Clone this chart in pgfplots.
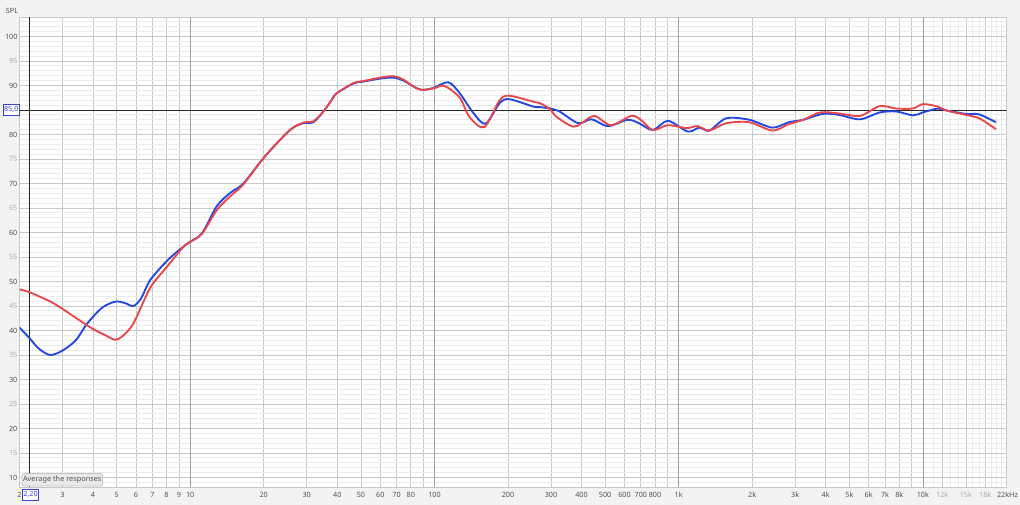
\documentclass[border=0pt]{standalone}
\usepackage{pgfplots}
\pgfplotsset{compat=1.18}
\usepackage{fontspec}
\setmainfont{Noto Sans}
\definecolor{bg}{HTML}{F3F3F3}
\definecolor{blueline}{HTML}{2447E0}
\definecolor{redline}{HTML}{E8474B}
\definecolor{gridminor}{HTML}{ECECEC}
\definecolor{gridmajor}{HTML}{D4D4D4}
\definecolor{gridmid}{HTML}{C8C8C8}
\definecolor{griddec}{HTML}{A0A0A0}
\definecolor{tdark}{HTML}{505050}
\definecolor{tlight}{HTML}{ABABAB}
\definecolor{cursorblue}{HTML}{3A44D0}
\definecolor{tipfill}{HTML}{EAEAEA}
\definecolor{tipdraw}{HTML}{C4C4C4}

\pgfplotstableread{
f y
2.0 40.6
2.2 38.4
2.4 36.3
2.67 35.0
3.0 35.9
3.4 38.0
3.72 40.9
4.0 42.8
4.4 44.8
4.94 45.9
5.4 45.6
5.86 45.0
6.3 46.6
6.86 50.3
8.03 54.2
9.1 56.6
10 58.1
11.2 59.9
12.86 65.4
14.6 68.1
16.5 70.0
20.2 75.5
25.6 80.9
29.0 82.3
31.9 82.5
35.0 84.6
37.9 87.0
39.8 88.4
46.6 90.4
51.2 90.8
59.8 91.4
67.9 91.6
74.6 91.0
82 89.8
88.6 89.1
99 89.5
114 90.65
127 88.4
144.8 84.3
162 82.2
185 86.4
203 87.2
254 85.7
270 85.6
297 85.3
325 84.7
388 82.3
440 83.1
513 81.7
618 83.0
688 82.3
785 80.9
903 82.8
1090 80.6
1214 81.4
1336 80.8
1566 83.3
1950 83.0
2420 81.4
2823 82.5
3235 83.0
3890 84.2
4530 84.0
5530 83.1
6660 84.5
7780 84.7
9100 83.9
10000 84.5
11500 85.3
12500 84.9
15000 84.2
17000 84.1
19900 82.5
}\blue

\pgfplotstableread{
f y
2.0 48.4
2.2 47.8
2.675 45.9
3.0 44.4
3.72 41.3
4.0 40.3
4.5 39.0
4.94 38.1
5.3 38.9
5.86 41.5
6.86 48.7
8.03 53.0
9.39 57.1
10 58.1
11.2 59.8
12.86 64.6
14.6 67.4
16.5 69.8
20.2 75.5
25.6 80.9
29.0 82.4
31.9 82.7
35.0 84.6
37.9 87.0
39.8 88.4
46.6 90.5
51.2 90.9
59.8 91.6
67.9 91.9
74.6 91.2
82 89.8
88.6 89.1
99 89.4
110 89.9
127 87.5
139 83.6
160 81.5
185 87.0
203 87.9
254 86.7
270 86.4
297 85.2
316 83.6
369 81.6
400 82.3
452 83.8
528 81.9
640 83.8
700 83.0
785 80.9
903 81.9
1075 81.3
1195 81.7
1336 80.8
1566 82.3
1950 82.5
2420 80.8
2823 82.1
3235 83.0
3800 84.5
4530 84.3
5530 83.8
6660 85.8
7780 85.3
9100 85.3
10000 86.2
11500 85.7
12500 84.9
15000 84.0
17000 83.3
19900 81.1
}\red

\begin{document}
\begin{tikzpicture}[x=0.75pt,y=0.75pt]
\useasboundingbox[fill=bg] (0,0) rectangle (1020,505);
\begin{axis}[
  at={(14.625pt,13.5pt)}, anchor=south west,
  width=740.25pt, height=352.5pt, scale only axis,
  xmode=log, xmin=2, xmax=22000, ymin=8.06, ymax=103.98,
  axis background/.style={fill=white},
  axis line style={draw=gridmid, line width=0.6pt},
  major tick length=0pt, minor tick length=0pt,
  tick style={draw=none},
  grid=both,
  major grid style={draw=gridmid, line width=0.6pt},
  minor grid style={draw=gridminor, line width=0.6pt},
  xtick={2,3,4,5,6,7,8,9,20,30,40,50,60,70,80,90,200,300,400,500,600,700,800,900,2000,3000,4000,5000,6000,7000,8000,9000,12000,15000,18000},
  xticklabels={2,3,4,5,6,7,8,9,20,30,40,50,60,70,80,,200,300,400,500,600,700,800,,2k,3k,4k,5k,6k,7k,8k,,\textcolor{tlight}{12k},\textcolor{tlight}{15k},\textcolor{tlight}{18k}},
  minor xtick={11000,13000,14000,16000,17000,19000,20000,21000},
  extra x ticks={10,100,1000,10000},
  extra x tick labels={10,100,1k,10k},
  extra x tick style={major grid style={draw=griddec, line width=0.6pt}},
  ytick={10,15,...,100},
  yticklabels={10,\textcolor{tlight}{15},20,\textcolor{tlight}{25},30,\textcolor{tlight}{35},40,\textcolor{tlight}{45},50,\textcolor{tlight}{55},60,\textcolor{tlight}{65},70,\textcolor{tlight}{75},80,,90,\textcolor{tlight}{95},100},
  minor ytick={9,11,12,13,14,16,17,18,19,21,22,23,24,26,27,28,29,31,32,33,34,36,37,38,39,41,42,43,44,46,47,48,49,51,52,53,54,56,57,58,59,61,62,63,64,66,67,68,69,71,72,73,74,76,77,78,79,81,82,83,84,86,87,88,89,91,92,93,94,96,97,98,99,101,102,103},
  tick label style={font=\fontsize{5.4}{6.5}\selectfont, text=tdark},
  xticklabel style={anchor=base, inner sep=0pt, yshift=-7.6pt},
  yticklabel style={anchor=east, inner sep=0pt, xshift=-1.4pt},
]
\addplot[black!85, line width=0.6pt] coordinates {(2,85) (22000,85)};
\addplot[black!85, line width=0.6pt] coordinates {(2.2,8.06) (2.2,103.98)};
\addplot[blueline, line width=1.4pt, smooth] table[x=f,y=y] {\blue};
\addplot[redline, line width=1.4pt, smooth] table[x=f,y=y] {\red};
\end{axis}
% labels and overlays
\node[font=\fontsize{5.4}{6.5}\selectfont, text=tdark, inner sep=0pt] at (12,494.5) {SPL};
\node[font=\fontsize{5.4}{6.5}\selectfont, text=tdark, inner sep=0pt, anchor=base] at (1007.5,7.8) {22kHz};
\draw[cursorblue, fill=white, line width=0.6pt] (3,390) rectangle (19.5,400.5);
\node[font=\fontsize{5.4}{6.5}\selectfont, text=cursorblue, inner sep=0pt] at (11.25,395.2) {85,0};
\draw[cursorblue, fill=white, line width=0.6pt] (22.5,5) rectangle (38.5,16);
\node[font=\fontsize{5.4}{6.5}\selectfont, text=cursorblue, inner sep=0pt] at (30.5,10.5) {2,20};
\draw[tipdraw, fill=tipfill, rounded corners=1.5pt, line width=0.6pt] (22,19) rectangle (102.5,31.5);
\node[font=\fontsize{5.5}{6.5}\selectfont, text=tdark, inner sep=0pt] at (62.25,25.2) {Average the responses};
\end{tikzpicture}
\end{document}
